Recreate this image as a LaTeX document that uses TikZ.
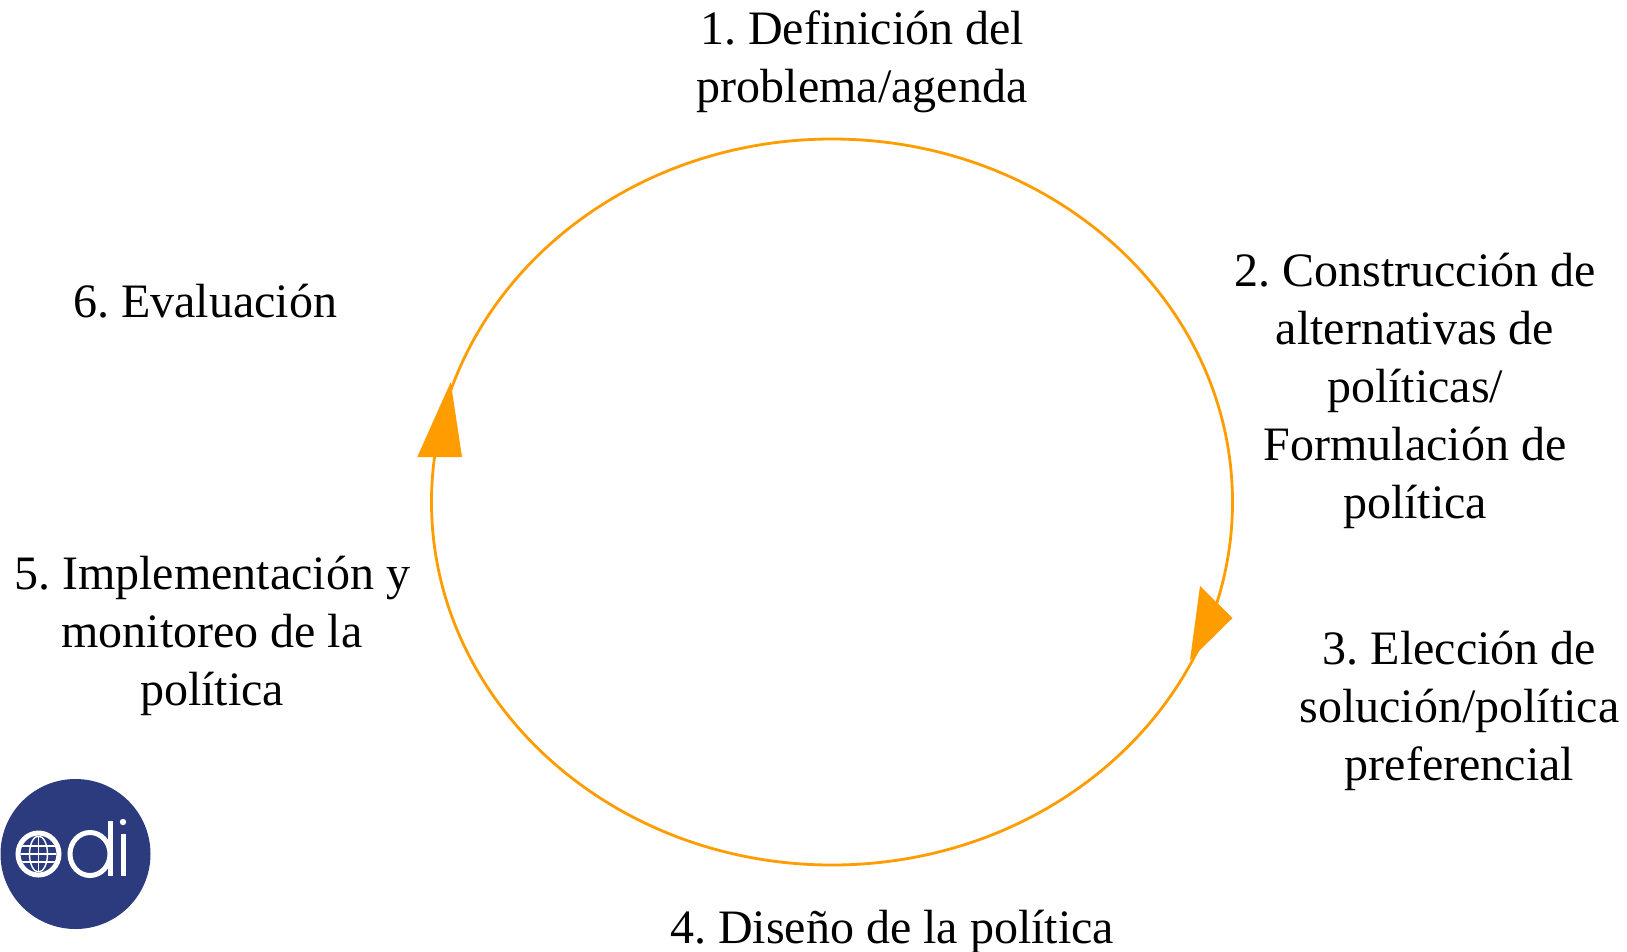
\documentclass[tikz,border=0pt]{standalone}
\usepackage{fontspec}
\setmainfont{Liberation Serif}
\definecolor{cyc}{HTML}{FF9C00}
\definecolor{odib}{HTML}{2C3A7E}
\tikzset{
  lab/.style={align=center,inner sep=0pt,font=\frenchspacing\fontsize{48}{58}\selectfont,text=black},
  cyclering/.style={draw=cyc,line width=2.8pt},
  tip/.style={fill=cyc,draw=none},
  logoline/.style={draw=white,line width=5pt},
  logogrid/.style={draw=white,line width=1.4pt}
}
\begin{document}
\begin{tikzpicture}[x=1pt,y=-1pt]
\useasboundingbox (0,0) rectangle (1627,951);
\draw[cyclering] (832,502) ellipse [x radius=400.5,y radius=363];
\fill[tip] (1200,586) -- (1232.5,618) -- (1190,660) -- cycle;
\fill[tip] (450.7,382) -- (417.3,457) -- (462,457) -- cycle;
\node[lab] (n1) at (862,62) {1. Definición del\\problema/agenda};
\node[lab] (n2) at (1415,390.5) {2. Construcción de\\alternativas de\\políticas/\\Formulación de\\política};
\node[lab] (n3) at (1459.5,711) {3. Elección de\\solución/política\\preferencial};
\node[lab] (n4) at (892,932) {4. Diseño de la política};
\node[lab] (n5) at (212,636) {5. Implementación y\\monitoreo de la\\política};
\node[lab] (n6) at (205,301) {6. Evaluación};
% logo
\fill[odib] (75.5,854) circle (75);
\draw[logoline] (38.5,854) ellipse [x radius=20.5,y radius=21];
\begin{scope}
\clip (38.5,854) circle (18);
\draw[logogrid] (20,854) -- (57,854) (38.5,836) -- (38.5,872);
\draw[logogrid] (20,846) -- (57,846) (20,862) -- (57,862);
\draw[logogrid] (38.5,854) ellipse [x radius=9,y radius=18];
\end{scope}
\draw[logoline] (90,854) ellipse [x radius=20,y radius=21.5];
\draw[logoline] (110,821) -- (110,876);
\draw[logoline] (123,834) -- (123,876);
\fill[white] (123,822) circle (3.2);
\end{tikzpicture}
\end{document}
